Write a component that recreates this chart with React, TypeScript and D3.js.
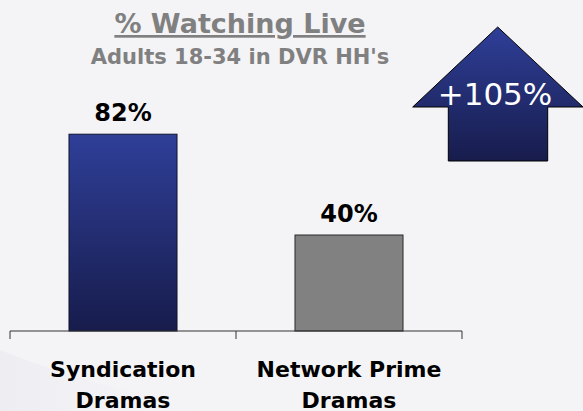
import * as d3 from "d3";

const categories = ["Syndication Dramas", "Network Prime Dramas"];
const categoryLines = [
  ["Syndication", "Dramas"],
  ["Network Prime", "Dramas"],
];
const values = [82, 40];
const valueLabels = ["82%", "40%"];
const title = "% Watching Live";
const subtitle = "Adults 18-34 in DVR HH's";
const liftLabel = "+105%";

const W = 583;
const H = 411;
const FONT = "'DejaVu Sans', Verdana, sans-serif";

export default function App() {
  const x = d3.scaleBand<string>().domain(categories).range([10, 462]).paddingInner(0.522).paddingOuter(0.261);
  const y = d3.scaleLinear().domain([0, 100]).range([331, 91]);
  const step = x.step();
  const base = y(0);
  const tickXs = d3.range(categories.length + 1).map((i) => 10 + i * step);

  // arrow shape
  const arrow = d3.path();
  arrow.moveTo(497.7, 27);
  arrow.lineTo(583, 107);
  arrow.lineTo(547.7, 107);
  arrow.lineTo(547.7, 161);
  arrow.lineTo(448.3, 161);
  arrow.lineTo(448.3, 107);
  arrow.lineTo(412.7, 107);
  arrow.closePath();

  return (
    <svg width={W} height={H} style={{ position: "absolute", left: 0, top: 0, display: "block" }}>
      <defs>
        <linearGradient id="navy" x1="0" y1="0" x2="0" y2="1">
          <stop offset="0" stopColor="#2f3f98" />
          <stop offset="1" stopColor="#171c4c" />
        </linearGradient>
        <linearGradient id="swoosh" x1="0" y1="0" x2="1" y2="0">
          <stop offset="0" stopColor="#e6e6ec" />
          <stop offset="1" stopColor="#f4f4f7" stopOpacity="0" />
        </linearGradient>
      </defs>
      <rect width={W} height={H} fill="#f4f4f7" />
      <path d="M0,350 C70,378 150,398 210,411 L0,411 Z" fill="url(#swoosh)" opacity={0.5} />

      <text x={240} y={33} textAnchor="middle" fontFamily={FONT} fontWeight="bold" fontSize={27} fill="#808080" textDecoration="underline">
        {title}
      </text>
      <text x={240} y={64} textAnchor="middle" fontFamily={FONT} fontWeight="bold" fontSize={21} fill="#808080">
        {subtitle}
      </text>

      {categories.map((c, i) => (
        <rect
          key={c}
          x={x(c)}
          y={y(values[i])}
          width={x.bandwidth()}
          height={base - y(values[i])}
          fill={i === 0 ? "url(#navy)" : "#818181"}
          stroke={i === 0 ? "#10132e" : "#2a2a2a"}
          strokeWidth={1}
        />
      ))}
      {categories.map((c, i) => (
        <text
          key={c + "v"}
          x={(x(c) ?? 0) + x.bandwidth() / 2}
          y={y(values[i]) - 13}
          textAnchor="middle"
          fontFamily={FONT}
          fontWeight="bold"
          fontSize={24}
          fill="#000"
        >
          {valueLabels[i]}
        </text>
      ))}

      <line x1={tickXs[0]} x2={tickXs[tickXs.length - 1]} y1={base} y2={base} stroke="#333" strokeWidth={1} />
      {tickXs.map((tx) => (
        <line key={tx} x1={tx} x2={tx} y1={base} y2={base + 8} stroke="#333" strokeWidth={1} />
      ))}

      {categories.map((c, i) => (
        <text
          key={c + "l"}
          x={(x(c) ?? 0) + x.bandwidth() / 2}
          y={377}
          textAnchor="middle"
          fontFamily={FONT}
          fontWeight="bold"
          fontSize={22}
          fill="#000"
        >
          {categoryLines[i].map((ln, j) => (
            <tspan key={j} x={(x(c) ?? 0) + x.bandwidth() / 2} dy={j === 0 ? 0 : 31}>
              {ln}
            </tspan>
          ))}
        </text>
      ))}

      <path d={arrow.toString()} fill="url(#navy)" stroke="#000" strokeWidth={1} />
      <text x={495} y={105} textAnchor="middle" fontFamily={FONT} fontWeight={500} fontSize={31} fill="#fff">
        {liftLabel}
      </text>
    </svg>
  );
}
